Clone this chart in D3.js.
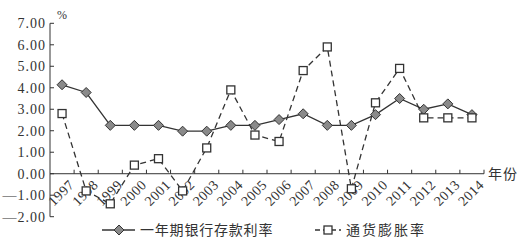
<!DOCTYPE html>
<html lang="zh">
<head>
<meta charset="UTF-8">
<title>存款利率与通货膨胀率</title>
<style>
  body { margin: 0; background: #fff; }
  text { fill: #333; }
</style>
</head>
<body>
<div id="container"></div>
<script src="https://cdn.jsdelivr.net/npm/d3@7"></script>
<script>
    const years = ['1997', '1998', '1999', '2000', '2001', '2002', '2003', '2004', '2005',
        '2006', '2007', '2008', '2009', '2010', '2011', '2012', '2013', '2014']
    const depositRate = [4.14, 3.78, 2.25, 2.25, 2.25, 1.98, 1.98, 2.25, 2.25,
        2.52, 2.79, 2.25, 2.25, 2.75, 3.50, 3.00, 3.25, 2.75]
    const inflation = [2.8, -0.8, -1.4, 0.4, 0.7, -0.8, 1.2, 3.9, 1.8,
        1.5, 4.8, 5.9, -0.7, 3.3, 4.9, 2.6, 2.6, 2.6]
    const yTicks = [7, 6, 5, 4, 3, 2, 1, 0, -1, -2]
    const seriesNames = ['一年期银行存款利率', '通货膨胀率']

    const width = 523
    const height = 242
    const lineColor = '#333'
    const diamondFill = '#8a8a8a'
    const serif = '"Liberation Serif", "DejaVu Serif", serif'
    const cjk = '"Noto Sans CJK SC", sans-serif'

    const svg = d3.select('#container').append('svg')
        .attr('width', width)
        .attr('height', height)

    const x = d3.scaleBand().domain(years).range([50, 484])
    const y = d3.scaleLinear().domain([-2, 7]).range([216.7, 23.3])
    const cx = d => x(d) + x.bandwidth() / 2

    // y axis
    svg.append('line')
        .attr('x1', 50).attr('x2', 50)
        .attr('y1', y(7)).attr('y2', y(-2))
        .attr('stroke', lineColor)

    svg.append('g')
        .selectAll('line')
        .data(yTicks)
        .enter()
        .append('line')
        .attr('x1', 50).attr('x2', 54)
        .attr('y1', d => y(d)).attr('y2', d => y(d))
        .attr('stroke', lineColor)

    svg.append('g')
        .selectAll('text')
        .data(yTicks)
        .enter()
        .append('text')
        .attr('x', 46)
        .attr('y', d => y(d))
        .attr('dy', '0.35em')
        .attr('text-anchor', 'end')
        .attr('font-family', serif)
        .attr('font-size', '14px')
        .attr('letter-spacing', '1px')
        .text(d => (d < 0 ? '—' : '') + Math.abs(d).toFixed(2))

    svg.append('text')
        .attr('x', 62).attr('y', 19)
        .attr('text-anchor', 'middle')
        .attr('font-family', serif)
        .attr('font-size', '12px')
        .text('%')

    // x axis at zero
    svg.append('line')
        .attr('x1', 50).attr('x2', 484)
        .attr('y1', y(0)).attr('y2', y(0))
        .attr('stroke', lineColor)

    svg.append('g')
        .selectAll('line')
        .data(years)
        .enter()
        .append('line')
        .attr('x1', d => x(d) + x.bandwidth()).attr('x2', d => x(d) + x.bandwidth())
        .attr('y1', y(0)).attr('y2', y(0) - 4)
        .attr('stroke', lineColor)

    svg.append('g')
        .selectAll('text')
        .data(years)
        .enter()
        .append('text')
        .attr('transform', d => `translate(${cx(d) + 6},${y(0) + 5}) rotate(-45)`)
        .attr('text-anchor', 'end')
        .attr('dy', '0.7em')
        .attr('font-family', serif)
        .attr('font-size', '14px')
        .attr('letter-spacing', '0.5px')
        .text(d => d)

    svg.append('text')
        .attr('x', 488).attr('y', y(0))
        .attr('dy', '0.35em')
        .attr('font-family', cjk)
        .attr('font-size', '14px')
        .attr('letter-spacing', '1px')
        .text('年份')

    // series lines
    const lineGen = d3.line().x((d, i) => cx(years[i])).y(d => y(d))

    svg.append('path')
        .attr('d', lineGen(inflation))
        .attr('fill', 'none')
        .attr('stroke', lineColor)
        .attr('stroke-width', 1.3)
        .attr('stroke-dasharray', '6,4')

    svg.append('path')
        .attr('d', lineGen(depositRate))
        .attr('fill', 'none')
        .attr('stroke', lineColor)
        .attr('stroke-width', 1.3)

    const diamond = (px, py) => `M${px},${py - 5}L${px + 5},${py}L${px},${py + 5}L${px - 5},${py}Z`

    svg.append('g')
        .selectAll('path')
        .data(depositRate)
        .enter()
        .append('path')
        .attr('d', (d, i) => diamond(cx(years[i]), y(d)))
        .attr('fill', diamondFill)
        .attr('stroke', lineColor)
        .attr('stroke-width', 1)

    svg.append('g')
        .selectAll('rect')
        .data(inflation)
        .enter()
        .append('rect')
        .attr('x', (d, i) => cx(years[i]) - 4)
        .attr('y', d => y(d) - 4)
        .attr('width', 8)
        .attr('height', 8)
        .attr('fill', '#fff')
        .attr('stroke', lineColor)
        .attr('stroke-width', 1.3)

    // legend
    const legY = 230
    svg.append('line')
        .attr('x1', 102).attr('x2', 135)
        .attr('y1', legY).attr('y2', legY)
        .attr('stroke', lineColor).attr('stroke-width', 1.3)
    svg.append('path')
        .attr('d', diamond(119, legY))
        .attr('fill', diamondFill).attr('stroke', lineColor)
    svg.append('text')
        .attr('x', 140).attr('y', legY)
        .attr('dy', '0.35em')
        .attr('font-family', cjk)
        .attr('font-size', '14px')
        .attr('letter-spacing', '0.8px')
        .text(seriesNames[0])

    svg.append('line')
        .attr('x1', 315).attr('x2', 341)
        .attr('y1', legY).attr('y2', legY)
        .attr('stroke', lineColor).attr('stroke-width', 1.3)
        .attr('stroke-dasharray', '5,3')
    svg.append('rect')
        .attr('x', 324).attr('y', legY - 4)
        .attr('width', 8).attr('height', 8)
        .attr('fill', '#fff').attr('stroke', lineColor).attr('stroke-width', 1.3)
    svg.append('text')
        .attr('x', 346).attr('y', legY)
        .attr('dy', '0.35em')
        .attr('font-family', cjk)
        .attr('font-size', '14px')
        .attr('letter-spacing', '2px')
        .text(seriesNames[1])
</script>
</body>
</html>
